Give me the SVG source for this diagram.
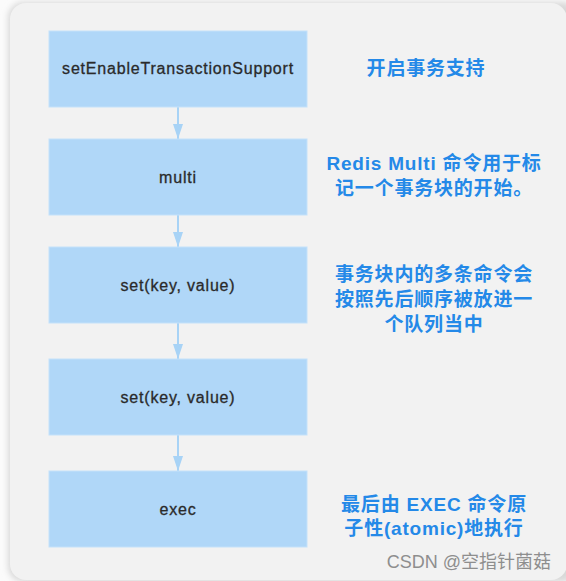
<svg xmlns="http://www.w3.org/2000/svg" width="566" height="581" viewBox="0 0 566 581">
  <defs>
    <filter id="shadow" x="-5%" y="-5%" width="110%" height="110%">
      <feGaussianBlur stdDeviation="3"/>
    </filter>
    <marker id="arrow" viewBox="0 0 15 10" refX="15" refY="5" markerWidth="15" markerHeight="10" markerUnits="userSpaceOnUse" orient="auto">
      <path d="M0,0 L15,5 L0,10 z" fill="#a8d3f6"/>
    </marker>
  </defs>
  <style>
    .box { fill: #b0d7f8; stroke: #c4e1fa; stroke-width: 1; }
    .label { font-family: "Liberation Sans", Arial, sans-serif; font-size: 16px; fill: #2a2a2a; stroke: #2a2a2a; stroke-width: 0.3px; text-anchor: middle; letter-spacing: 0.8px; }
    .note { font-family: "Liberation Sans", "Noto Sans CJK SC", sans-serif; font-size: 19px; font-weight: bold; fill: #2489e8; text-anchor: middle; letter-spacing: 0.8px; }
    .conn { stroke: #a8d3f6; stroke-width: 2; fill: none; }
    .wm { font-family: "Liberation Sans", "Noto Sans CJK SC", sans-serif; font-size: 18px; fill: #8e8e8e; text-anchor: end; }
  </style>
  <rect x="0" y="0" width="566" height="581" fill="#fbfbfb"/>
  <rect x="8" y="2" width="570" height="580" rx="16" fill="#d8d8d8" filter="url(#shadow)"/>
  <rect x="10" y="3" width="557" height="577" rx="16" fill="#f2f2f2"/>

  <g id="connectors">
    <line class="conn" x1="178" y1="107" x2="178" y2="139" marker-end="url(#arrow)"/>
    <line class="conn" x1="178" y1="215" x2="178" y2="247" marker-end="url(#arrow)"/>
    <line class="conn" x1="178" y1="323" x2="178" y2="359" marker-end="url(#arrow)"/>
    <line class="conn" x1="178" y1="435" x2="178" y2="471" marker-end="url(#arrow)"/>
  </g>

  <g id="node-setEnable">
    <rect class="box" x="49" y="31" width="258" height="76"/>
    <text class="label" x="178" y="74">setEnableTransactionSupport</text>
  </g>
  <g id="node-multi">
    <rect class="box" x="49" y="139" width="258" height="76"/>
    <text class="label" x="178" y="182.5">multi</text>
  </g>
  <g id="node-set1">
    <rect class="box" x="49" y="247" width="258" height="76"/>
    <text class="label" x="178" y="290.5">set(key, value)</text>
  </g>
  <g id="node-set2">
    <rect class="box" x="49" y="359" width="258" height="76"/>
    <text class="label" x="178" y="402.5">set(key, value)</text>
  </g>
  <g id="node-exec">
    <rect class="box" x="49" y="471" width="258" height="76"/>
    <text class="label" x="178" y="514.5">exec</text>
  </g>

  <g id="note-1">
    <text class="note" x="426" y="75">开启事务支持</text>
  </g>
  <g id="note-2">
    <text class="note" x="434" y="170">Redis Multi 命令用于标</text>
    <text class="note" x="434" y="195">记一个事务块的开始。</text>
  </g>
  <g id="note-3">
    <text class="note" x="434" y="281">事务块内的多条命令会</text>
    <text class="note" x="434" y="306">按照先后顺序被放进一</text>
    <text class="note" x="434" y="331">个队列当中</text>
  </g>
  <g id="note-5">
    <text class="note" x="434" y="510.5">最后由 EXEC 命令原</text>
    <text class="note" x="434" y="534.5">子性(atomic)地执行</text>
  </g>

  <text class="wm" x="551" y="567.5">CSDN @空指针菌菇</text>
</svg>
